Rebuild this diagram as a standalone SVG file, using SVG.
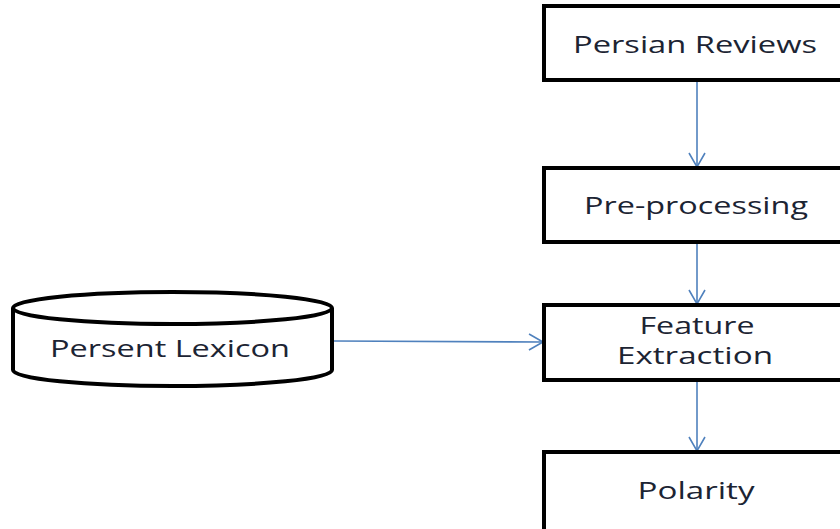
<svg xmlns="http://www.w3.org/2000/svg" width="840" height="529" viewBox="0 0 840 529">
<style>
.box{fill:#fff;stroke:#000;stroke-width:4}
.lbl{font-family:"Open Sans","Liberation Sans",sans-serif;font-size:23px;fill:#1c2433;text-anchor:middle}
.con{stroke:#4f81bd;stroke-width:1.6;fill:none}
</style>
<defs>
<marker id="ah" viewBox="0 0 20 20" refX="18" refY="10" markerWidth="20" markerHeight="20" markerUnits="userSpaceOnUse" orient="auto">
<path d="M4,2 L18,10 L4,18" fill="none" stroke="#4f81bd" stroke-width="1.6"/>
</marker>
</defs>
<rect width="840" height="529" fill="#fff"/>
<g id="connectors">
<line class="con" x1="697" y1="82" x2="697" y2="167" marker-end="url(#ah)"/>
<line class="con" x1="697" y1="244" x2="697" y2="304" marker-end="url(#ah)"/>
<line class="con" x1="697" y1="382" x2="697" y2="451" marker-end="url(#ah)"/>
<line class="con" x1="334" y1="341" x2="543" y2="342" marker-end="url(#ah)"/>
</g>
<g id="persian-reviews">
<rect class="box" x="544" y="6" width="320" height="74"/>
<text class="lbl" x="695" y="53" textLength="244" lengthAdjust="spacingAndGlyphs">Persian Reviews</text>
</g>
<g id="pre-processing">
<rect class="box" x="544" y="168" width="320" height="74"/>
<text class="lbl" x="696" y="214" textLength="224" lengthAdjust="spacingAndGlyphs">Pre-processing</text>
</g>
<g id="feature-extraction">
<rect class="box" x="544" y="305" width="320" height="75"/>
<text class="lbl" x="697" y="334" textLength="115" lengthAdjust="spacingAndGlyphs">Feature</text>
<text class="lbl" x="695" y="364" textLength="156" lengthAdjust="spacingAndGlyphs">Extraction</text>
</g>
<g id="polarity">
<rect class="box" x="544" y="452" width="320" height="100"/>
<text class="lbl" x="696" y="499" textLength="117" lengthAdjust="spacingAndGlyphs">Polarity</text>
</g>
<g id="persent-lexicon">
<path d="M13,308 L13,370 A159.5,16 0 0 0 332,370 L332,308" fill="#fff" stroke="#000" stroke-width="4"/>
<ellipse cx="172.5" cy="308" rx="159.5" ry="16" fill="#fff" stroke="#000" stroke-width="4"/>
<text class="lbl" x="170" y="357" textLength="240" lengthAdjust="spacingAndGlyphs">Persent Lexicon</text>
</g>
</svg>
